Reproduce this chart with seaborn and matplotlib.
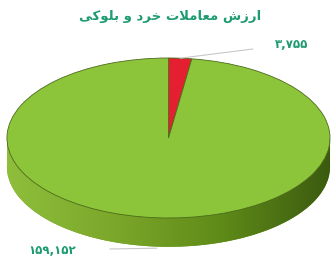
import matplotlib
matplotlib.use("Agg")
import matplotlib.pyplot as plt
import numpy as np
import seaborn as sns
from matplotlib.colors import LinearSegmentedColormap
from matplotlib.patches import Polygon

# data
categories = ["بلوکی", "خرد"]
values = [3755, 159152]
slice_colors = ["#e41f2f", "#8cc43a"]
title = "ارزش معاملات خرد و بلوکی"

# matplotlib has no arabic shaping: use presentation forms, reversed for LTR drawing
title_forms = [
    "\uFE8D\uFEAD\uFEAF\uFEB5",                  # ارزش
    "\uFEE3\uFECC\uFE8E\uFEE3\uFEFC\uFE95",      # معاملات
    "\uFEA7\uFEAE\uFEA9",                        # خرد
    "\uFEED",                                    # و
    "\uFE91\uFEE0\uFEEE\uFB90\uFBFD",            # بلوکی
]
title_shown = " ".join(title_forms)[::-1]

fa_digits = str.maketrans("0123456789", "۰۱۲۳۴۵۶۷۸۹")


def fa_number(v):
    return f"{v:,}".translate(fa_digits)


sns.set_theme(style="white")
plt.rcParams["font.family"] = ["DejaVu Sans"]

fig = plt.figure(figsize=(3.31, 2.57), dpi=100)
ax = fig.add_axes([0, 0, 1, 1])

thick = 0.36
green_txt = "#1e9b72"

# side wall (bottom copy of the pie)
ax.pie(values, colors=["#6e9a1c", "#6e9a1c"], startangle=90, counterclock=False,
       center=(0, -thick), radius=1, wedgeprops=dict(linewidth=0))

th = np.linspace(np.pi, 2 * np.pi, 200)
side = np.vstack([
    np.column_stack([np.cos(th), np.sin(th) - thick]),
    [[1, 0], [-1, 0]],
])
side_patch = Polygon(side, closed=True, facecolor="none", edgecolor="none")
ax.add_patch(side_patch)
cmap = LinearSegmentedColormap.from_list("side", ["#8fbe3c", "#7ba72a", "#5e8a18", "#3b5a0f"])
img = ax.imshow(np.linspace(0, 1, 256)[None, :], cmap=cmap, aspect="auto",
                extent=[-1, 1, -1 - thick, 0], zorder=1)
img.set_clip_path(side_patch)

# top surface
wedges, _ = ax.pie(values, colors=slice_colors, startangle=90, counterclock=False,
                   radius=1, wedgeprops=dict(linewidth=0.6, edgecolor="#4d6b1c"))
for w in wedges:
    w.set_zorder(3)

ax.set_aspect("auto")
ax.set_xlim(-1.043, 1.006)
ax.set_ylim(-1.4875, 1.725)
ax.axis("off")

# leader lines + value labels
total = sum(values)
a_small = np.deg2rad(90 - 360 * values[0] / total / 2)
ax.annotate(fa_number(values[0]), xy=(np.cos(a_small), np.sin(a_small)),
            xytext=(0.765, 1.175), ha="center", va="center", fontsize=8.5,
            fontweight="bold", color=green_txt,
            arrowprops=dict(arrowstyle="-", color="#c8c8c8", lw=0.8,
                            shrinkA=14, shrinkB=0))
a_big = np.deg2rad(90 - 360 * values[0] / total - 360 * values[1] / total / 2)
ax.annotate(fa_number(values[1]), xy=(np.cos(a_big), np.sin(a_big) - thick - 0.02),
            xytext=(-0.72, -1.40), ha="center", va="center", fontsize=8.5,
            fontweight="bold", color=green_txt,
            arrowprops=dict(arrowstyle="-", color="#c8c8c8", lw=0.8,
                            shrinkA=22, shrinkB=0))

fig.text(0.515, 0.935, title_shown, ha="center", va="center", fontsize=9.5,
         fontweight="bold", color=green_txt)

fig.savefig("out.png", dpi=100)
